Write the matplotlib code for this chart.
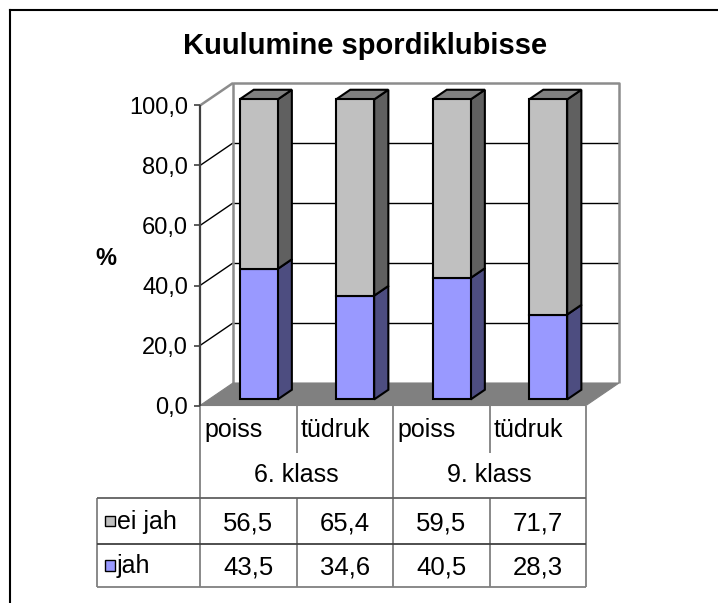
import matplotlib
matplotlib.use("Agg")
import matplotlib.pyplot as plt
from matplotlib.patches import Polygon, Rectangle
from matplotlib.lines import Line2D
import matplotlib.transforms as mtransforms

# ---------------- data ----------------
title = "Kuulumine spordiklubisse"
y_label = "%"
genders = ["poiss", "tüdruk", "poiss", "tüdruk"]
grades = ["6. klass", "9. klass"]
series_names = ["ei jah", "jah"]
jah = [43.5, 34.6, 40.5, 28.3]
ei_jah = [56.5, 65.4, 59.5, 71.7]
y_ticks = [0, 20, 40, 60, 80, 100]

# ---------------- style ----------------
FONT = "Liberation Sans"
C_JAH, C_JAH_SIDE = "#9999FF", "#4D4D80"
C_EI, C_EI_SIDE, C_EI_TOP = "#C0C0C0", "#606060", "#808080"
C_FLOOR = "#808080"
C_WALL = "#8c8c8c"

W, H = 718, 603
fig = plt.figure(figsize=(W / 100, H / 100), dpi=100)
fig.patch.set_facecolor("white")

# axes = front plane of the 3-D box
ax = fig.add_axes([200 / W, 197.5 / H, 386 / W, 300 / H])
ax.set_xlim(0, 4)
ax.set_ylim(0, 100)
ax.axis("off")

DX = 33 / 96.5   # depth offset in x data units
DY = 22.5 / 3    # depth offset in y data units


def P(x, y, d=0.0):
    return (x + DX * d, y + DY * d)


def poly(pts, fc, ec="black", lw=1.5, z=2):
    ax.add_patch(Polygon(pts, closed=True, facecolor=fc, edgecolor=ec,
                         linewidth=lw, zorder=z, clip_on=False,
                         joinstyle="miter"))


def line(xs, ys, color="black", lw=1.0, z=1):
    ax.add_line(Line2D(xs, ys, color=color, linewidth=lw, zorder=z,
                       clip_on=False, solid_capstyle="butt"))


# back wall gridlines
for v in y_ticks[1:-1]:
    a, b = P(0, v, 1), P(4, v, 1)
    line([a[0], b[0]], [a[1], b[1]], "black", 1.0)
    # side wall diagonal
    c = P(0, v, 0)
    line([c[0], a[0]], [c[1], a[1]], "black", 1.0)

# wall borders
tl, tr = P(0, 100, 1), P(4, 100, 1)
bl, br = P(0, 0, 1), P(4, 0, 1)
line([bl[0], tl[0], tr[0], br[0]], [bl[1], tl[1], tr[1], br[1]], C_WALL, 1.8)
f100 = P(0, 100, 0)
line([f100[0], tl[0]], [f100[1], tl[1]], C_WALL, 1.8)

# floor
poly([P(0, 0, 0), P(4, 0, 0), P(4, 0, 1), P(0, 0, 1)], C_FLOOR, ec=C_FLOOR, lw=0.8, z=1.5)

# front value axis + ticks + labels
line([0, 0], [0, 100], "#404040", 1.6, z=3)
tick_len = 6 / 96.5
lab_tr = mtransforms.offset_copy(ax.transData, fig=fig, y=-0.358 * 17, units="points")
for v in y_ticks:
    line([-tick_len, 0], [v, v], "#404040", 1.2, z=3)
    ax.text(-12 / 96.5, v, f"{v:.1f}".replace(".", ","), ha="right", va="baseline",
            fontsize=17, family=FONT, transform=lab_tr)

# bars
df, db = 0.27, 0.70
bw = 0.395
for i in range(4):
    cx = i + 0.515
    x0, x1 = cx - bw / 2, cx + bw / 2
    segs = [(0, jah[i], C_JAH, C_JAH_SIDE),
            (jah[i], jah[i] + ei_jah[i], C_EI, C_EI_SIDE)]
    for k, (y0, y1, fc, sc) in enumerate(segs):
        poly([P(x1, y0, df), P(x1, y0, db), P(x1, y1, db), P(x1, y1, df)], sc, z=4 + k)
        if k == len(segs) - 1:
            poly([P(x0, y1, df), P(x1, y1, df), P(x1, y1, db), P(x0, y1, db)], C_EI_TOP, z=4 + k)
        poly([P(x0, y0, df), P(x1, y0, df), P(x1, y1, df), P(x0, y1, df)], fc, z=4.5 + k)

# ---------------- data table ----------------
def ypx(px):
    return (405.5 - px) / 3.0


def xpx(px):
    return (px - 200) / 96.5


r_head = ypx(453)
r_top = ypx(498)
r_mid = ypx(544)
r_bot = ypx(587)
x_left = xpx(97)
tcol = "#808080"

for xi in [0, 2, 4]:
    line([xi, xi], [0, r_bot], tcol, 1.3)
for xi in [1, 3]:
    line([xi, xi], [0, r_head], tcol, 1.3)
    line([xi, xi], [r_top, r_bot], tcol, 1.3)
line([x_left, x_left], [r_top, r_bot], tcol, 1.3)
for yy, col in [(r_top, "#606060"), (r_mid, "#404040"), (r_bot, tcol)]:
    line([x_left, 4], [yy, yy], col, 1.3)

for i, g in enumerate(genders):
    ax.text(i + xpx(204), ypx(437), g, ha="left", va="baseline",
            fontsize=18, family=FONT)
for j, g in enumerate(grades):
    ax.text(2 * j + 1, ypx(482), g, ha="center", va="baseline",
            fontsize=18, family=FONT)

val_tr = mtransforms.offset_copy(ax.transData, fig=fig, y=-0.358 * 18.5, units="points")
rows = [(series_names[0], ei_jah, C_EI), (series_names[1], jah, C_JAH)]
row_centers = [(r_top + r_mid) / 2, (r_mid + r_bot) / 2]
for (name, vals, col), yc in zip(rows, row_centers):
    ax.add_patch(Rectangle((xpx(105), yc - 1.7), xpx(115) - xpx(105), 3.4,
                           facecolor=col, edgecolor="black", linewidth=1.0,
                           clip_on=False, zorder=3))
    ax.text(xpx(117), yc, name, ha="left", va="baseline", fontsize=18,
            family=FONT, transform=mtransforms.offset_copy(
                ax.transData, fig=fig, y=-0.3 * 18, units="points"))
    for i, v in enumerate(vals):
        ax.text(i + 0.5, yc, f"{v:.1f}".replace(".", ","), ha="center",
                va="baseline", fontsize=18.5, family=FONT, transform=val_tr)

# ---------------- title, axis label, frame ----------------
fig.text(365.5 / W, 1 - 54 / H, title, ha="center", va="baseline",
         fontsize=21, fontweight="bold", family=FONT)
fig.text(106 / W, 1 - 265 / H, y_label, ha="center", va="baseline",
         fontsize=17, fontweight="bold", family=FONT)

fig.add_artist(Line2D([10 / W, 10 / W], [0, 1 - 10 / H], color="black",
                      linewidth=1.5, transform=fig.transFigure))
fig.add_artist(Line2D([10 / W, 1], [1 - 10 / H, 1 - 10 / H], color="black",
                      linewidth=1.5, transform=fig.transFigure))

fig.savefig("out.png", dpi=100)
